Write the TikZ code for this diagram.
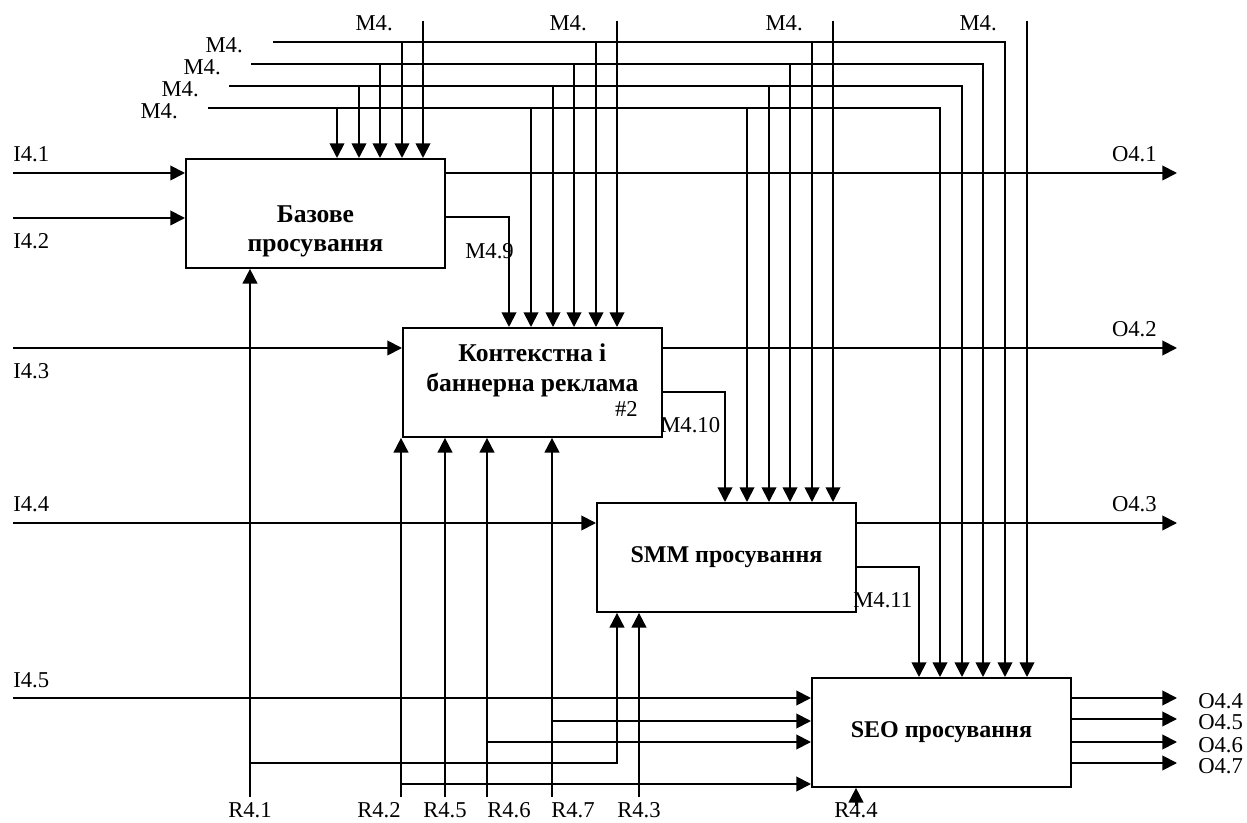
\documentclass[tikz,border=0pt]{standalone}
\usepackage{fontspec}
\setmainfont{Liberation Serif}
\usepackage{tikz}
\usetikzlibrary{arrows.meta,positioning,calc}
\tikzset{
  func/.style={draw=black, line width=1.4pt, anchor=north west, inner sep=0pt,
    minimum width=194.25pt, minimum height=81.75pt, align=center,
    font=\fontsize{18}{21.5}\selectfont\bfseries},
  ftxt/.style={align=center, inner sep=0pt, font=\fontsize{19.2}{22}\selectfont\bfseries},
  lbl/.style={inner sep=0pt, font=\fontsize{17}{20}\selectfont},
  flow/.style={-{Triangle[length=11pt,width=11pt]}, line width=1.4pt}
}

\begin{document}
\begin{tikzpicture}[x=0.75pt,y=-0.75pt]
  \useasboundingbox (0,0) rectangle (1247,823);
  \node[func] (base) at (185,158) {};
  \node[ftxt] (baseT) at ($(base.center)+(0,18)$) {Базове\\просування};
  \node[func] (ctx) at (402,327) {};
  \node[ftxt] (ctxT) at ($(ctx.center)+(0,-12)$) {Контекстна і\\баннерна реклама};
  \node[lbl, anchor=base east] (ctxN) at (638,417) {\#2};
  \node[func] (smm) at (596,502) {SMM просування};
  \node[func] (seo) at (811,677) {SEO просування};

  % inputs and outputs
  \foreach \k/\yy/\b/\dy in {1/173/base/-11, 2/218/base/31, 3/348/ctx/31, 4/523/smm/-11, 5/698/seo/-11}{
    \coordinate (i\k) at (13,\yy);
    \draw[flow] (i\k) -- (i\k -| \b.west);
    \node[lbl, anchor=base west] (il\k) at ($(i\k)+(0,\dy)$) {I4.\k};
  }
  \foreach \k/\yy/\b in {1/173/base, 2/348/ctx, 3/523/smm}{
    \coordinate (o\k) at (1177,\yy);
    \draw[flow] (o\k -| \b.east) -- (o\k);
    \node[lbl, anchor=base east] (ol\k) at ($(o\k)+(-20,-11)$) {O4.\k};
  }
  \foreach \k/\yy in {4/698, 5/719, 6/742, 7/763}{
    \coordinate (o\k) at (1177,\yy);
    \draw[flow] (o\k -| seo.east) -- (o\k);
    \node[lbl, anchor=base west] (ol\k) at ($(o\k)+(21,10)$) {O4.\k};
  }

  % controls
  \foreach \j/\yy/\xs in {1/42/273, 2/64/251, 3/86/229, 4/108/208}{
    \coordinate (m\j) at (\xs,\yy);
    \node[lbl, anchor=east] (ml\j) at ($(m\j)+(-30,3)$) {M4.};
    \pgfmathtruncatemacro\xe{round(940+21.5*(4-\j))}
    \draw[flow] (m\j) -| (seo.north -| \xe,0);
    \foreach \b/\x in {base/337, ctx/531, smm/747}{
      \pgfmathtruncatemacro\xb{round(\x+21.5*(4-\j))}
      \draw[flow] (m\j -| \xb,0) -- (\b.north -| \xb,0);
    }
  }
  \foreach \k/\b/\x in {1/base/423, 2/ctx/617, 3/smm/833, 4/seo/1027}{
    \coordinate (t\k) at (\x,21);
    \node[lbl, anchor=east] (tl\k) at ($(t\k)+(-30,2)$) {M4.};
    \draw[flow] (t\k) -- (t\k |- \b.north);
  }
  \draw[flow] (base.east |- 0,217) -| (ctx.north -| 509,0);
  \draw[flow] (ctx.east |- 0,392) -| (smm.north -| 725,0);
  \draw[flow] (smm.east |- 0,567) -| (seo.north -| 919,0);
  \node[lbl, anchor=base west] (l9) at (465,259) {M4.9};
  \node[lbl, anchor=base west] (l10) at (660,433) {M4.10};
  \node[lbl, anchor=base west] (l11) at (853,608) {M4.11};

  % mechanisms
  \foreach \r/\x in {1/250, 2/401, 5/445, 6/487, 7/552, 3/639}
    \coordinate (r\r) at (\x,797);
  \coordinate (r4) at (856,806);
  \draw[flow] (r1) -- (r1 |- base.south);
  \foreach \r in {2,5,6,7}
    \draw[flow] (r\r) -- (r\r |- ctx.south);
  \draw[flow] (r3) -- (r3 |- smm.south);
  \draw[flow] (r4) -- (r4 |- seo.south);
  \draw[flow] (r1 |- 0,763) -| (smm.south -| 617,0);
  \foreach \r/\yy in {2/784, 6/742, 7/721}
    \draw[flow] (r\r |- 0,\yy) -- (seo.west |- 0,\yy);
  \node[lbl, anchor=base] (rl1) at (250,817) {R4.1};
  \node[lbl, anchor=base east] (rl2) at (401,817) {R4.2};
  \node[lbl, anchor=base] (rl5) at (445,817) {R4.5};
  \node[lbl, anchor=base west] (rl6) at (487,817) {R4.6};
  \node[lbl, anchor=base west] (rl7) at (551,817) {R4.7};
  \node[lbl, anchor=base] (rl3) at (639,817) {R4.3};
  \node[lbl, anchor=base] (rl4) at (856,817) {R4.4};
\end{tikzpicture}
\end{document}
